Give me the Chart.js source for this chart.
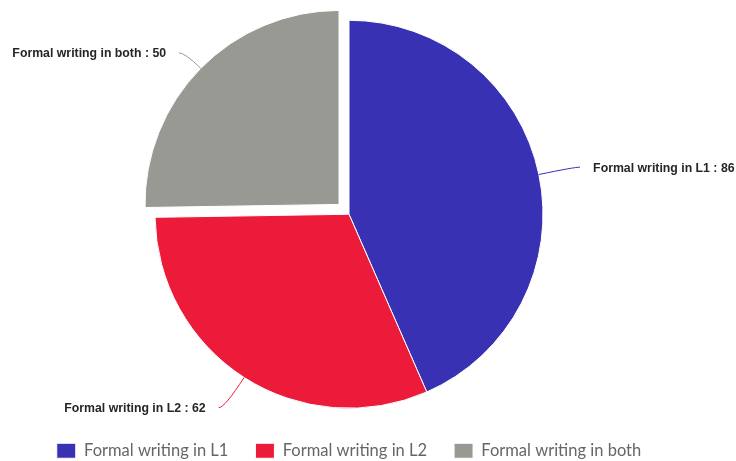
<!DOCTYPE html>
<html>
<head>
<meta charset="utf-8">
<script src="https://cdn.jsdelivr.net/npm/chart.js@4/dist/chart.umd.min.js"></script>
<style>
  html, body { margin: 0; padding: 0; background: #fff; }
  #wrap { width: 736px; height: 461px; position: relative; }
</style>
</head>
<body>
<div id="wrap"><canvas id="c" width="736" height="461"></canvas></div>
<script>
const categories = ["Formal writing in L1", "Formal writing in L2", "Formal writing in both"];
const values = [86, 62, 50];
const colors = ["#3831b3", "#ed1b3a", "#999994"];
// Chart.js translates an arc by offset/4
const offsets = [0, 0, 56];

const leaderLabels = {
  id: 'leaderLabels',
  afterDatasetsDraw(chart) {
    const ctx = chart.ctx;
    const meta = chart.getDatasetMeta(0);
    ctx.save();
    meta.data.forEach((arc, i) => {
      const {x, y, startAngle, endAngle, outerRadius} = arc;
      const mid = (startAngle + endAngle) / 2;
      const off = (arc.options.offset || 0) / 4;
      const cx = Math.cos(mid), sy = Math.sin(mid);
      const ax = x + cx * (outerRadius + off), ay = y + sy * (outerRadius + off);
      const bx = x + cx * (outerRadius + 36), by = y + sy * (outerRadius + 36);
      const side = cx >= 0 ? 1 : -1;
      const ex = bx + side * 6, ey = by;
      ctx.beginPath();
      ctx.moveTo(ax, ay);
      ctx.quadraticCurveTo(bx, by, ex, ey);
      ctx.strokeStyle = colors[i];
      ctx.lineWidth = 1;
      ctx.stroke();
      ctx.font = 'bold 12.3px "Liberation Sans", Arial, sans-serif';
      ctx.fillStyle = '#262626';
      ctx.textBaseline = 'middle';
      ctx.textAlign = side > 0 ? 'left' : 'right';
      ctx.fillText(categories[i] + ' : ' + values[i], ex + side * 13, ey + 1);
    });
    ctx.restore();
  }
};

new Chart(document.getElementById('c'), {
  type: 'pie',
  data: {
    labels: categories,
    datasets: [{
      data: values,
      backgroundColor: colors,
      borderColor: '#ffffff',
      borderWidth: 1,
      offset: offsets
    }]
  },
  options: {
    responsive: false,
    animation: false,
    radius: 194,
    layout: { padding: { top: 13, right: 38, bottom: -8, left: 0 } },
    plugins: {
      legend: {
        position: 'bottom',
        labels: {
          boxWidth: 19,
          boxHeight: 15,
          padding: 27,
          color: '#666666',
          font: { family: 'Lato', size: 16.5 }
        }
      },
      tooltip: { enabled: false },
      title: { display: false }
    }
  },
  plugins: [leaderLabels]
});
</script>
</body>
</html>
